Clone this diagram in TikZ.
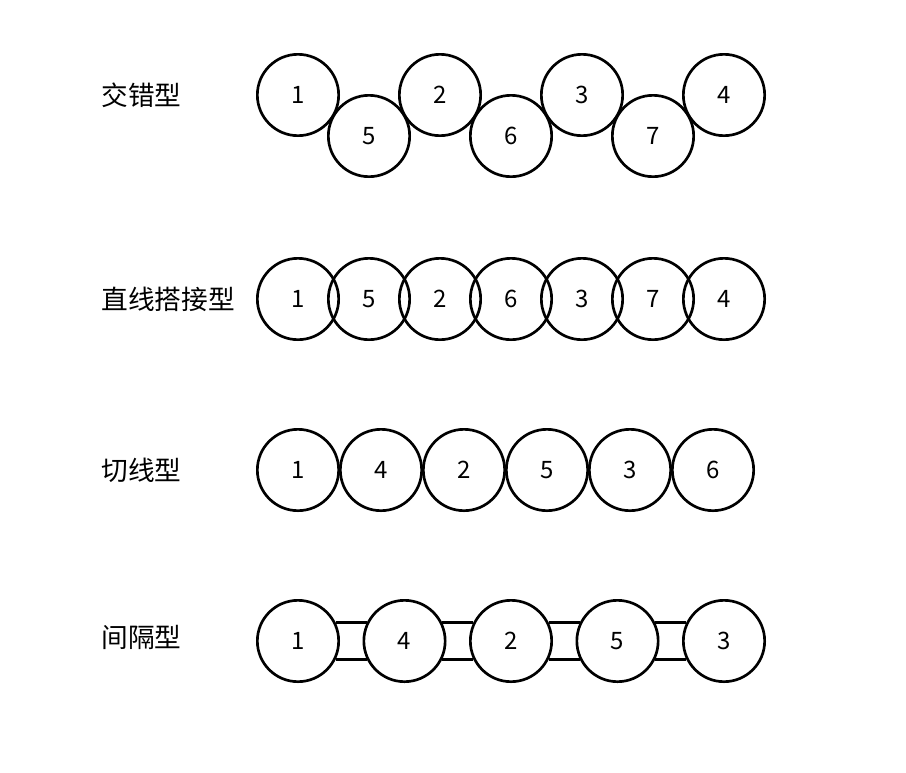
\documentclass[tikz,border=0pt]{standalone}
\usepackage{fontspec}
\setmainfont{Noto Sans CJK SC}
\usetikzlibrary{positioning}

\begin{document}
\begin{tikzpicture}[
	x = 0.75pt, y = -0.75pt, % pixel grid of the reference
	line width = 2pt, % line style
	C/.style={circle, draw=black, inner sep=0pt, minimum size=61pt, font=\fontsize{18}{18}\selectfont},
	L/.style={anchor=west, inner sep=0pt, font=\fontsize{20}{24}\selectfont},
	]
	\useasboundingbox (0,0) rectangle (906,772);

	% Row labels
	\node[L] (L1) at (100,95)  {交错型};
	\node[L] (L2) at (100,299) {直线搭接型};
	\node[L] (L3) at (100,470) {切线型};
	\node[L] (L4) at (100,637) {间隔型};

	% Staggered row
	\foreach \n [count=\i from 0] in {1,2,3,4}
		\node[C] (S\n) at (298+142*\i,95) {\n};
	\foreach \n [count=\i from 0] in {5,6,7}
		\node[C] (S\n) at (369+142*\i,136) {\n};

	% Overlapping row
	\foreach \n [count=\i from 0] in {1,5,2,6,3,7,4}
		\node[C] (O\n) at (298+71*\i,299) {\n};

	% Tangent row
	\foreach \n [count=\i from 0] in {1,4,2,5,3,6}
		\node[C] (T\n) at (298+83*\i,470) {\n};

	% Spaced row and its links
	\foreach \n [count=\i from 0] in {1,4,2,5,3}
		\node[C] (G\n) at (298+106.5*\i,641) {\n};
	\foreach \a/\b in {1/4,4/2,2/5,5/3} {
		\draw (G\a.26)  -- (G\b.154);
		\draw (G\a.-26) -- (G\b.-154);
	}

\end{tikzpicture}
\end{document}
